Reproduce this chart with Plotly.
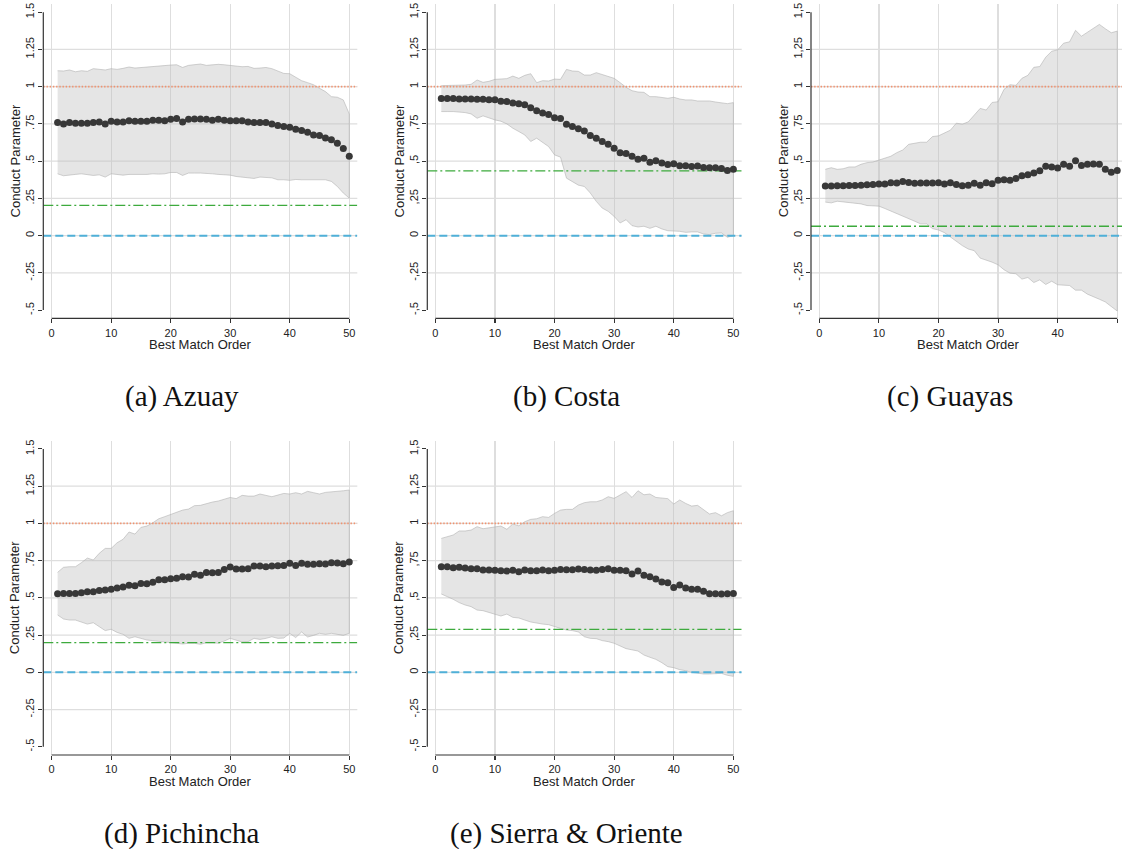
import plotly.graph_objects as go

# ---------------- data ----------------
order = list(range(1, 51))

azuay_est = [0.759, 0.750, 0.759, 0.754, 0.754, 0.754, 0.759, 0.763, 0.750, 0.768,
             0.763, 0.763, 0.772, 0.768, 0.768, 0.768, 0.775, 0.775, 0.772, 0.781,
             0.786, 0.763, 0.781, 0.783, 0.783, 0.781, 0.775, 0.781, 0.775, 0.772,
             0.772, 0.772, 0.763, 0.759, 0.759, 0.759, 0.750, 0.739, 0.732, 0.728,
             0.714, 0.705, 0.694, 0.676, 0.672, 0.656, 0.643, 0.621, 0.585, 0.533]
azuay_hi = [1.107, 1.105, 1.112, 1.100, 1.107, 1.103, 1.121, 1.118, 1.112, 1.121,
            1.116, 1.123, 1.132, 1.125, 1.129, 1.134, 1.138, 1.138, 1.143, 1.145,
            1.147, 1.129, 1.143, 1.150, 1.152, 1.143, 1.147, 1.150, 1.147, 1.143,
            1.136, 1.134, 1.136, 1.123, 1.125, 1.129, 1.121, 1.107, 1.089, 1.087,
            1.063, 1.040, 1.027, 1.013, 0.989, 0.967, 0.933, 0.929, 0.911, 0.817]
azuay_lo = [0.415, 0.402, 0.408, 0.411, 0.415, 0.408, 0.404, 0.408, 0.393, 0.415,
            0.411, 0.406, 0.411, 0.415, 0.411, 0.411, 0.415, 0.413, 0.415, 0.424,
            0.424, 0.404, 0.420, 0.420, 0.420, 0.420, 0.415, 0.411, 0.406, 0.406,
            0.397, 0.393, 0.388, 0.384, 0.393, 0.388, 0.388, 0.375, 0.375, 0.371,
            0.377, 0.375, 0.371, 0.373, 0.375, 0.375, 0.364, 0.330, 0.286, 0.252]

costa_est = [0.920, 0.920, 0.920, 0.917, 0.917, 0.917, 0.915, 0.915, 0.913, 0.913,
             0.902, 0.900, 0.891, 0.886, 0.879, 0.859, 0.839, 0.824, 0.813, 0.792,
             0.786, 0.748, 0.732, 0.717, 0.703, 0.672, 0.654, 0.632, 0.614, 0.587,
             0.556, 0.551, 0.533, 0.513, 0.520, 0.493, 0.502, 0.487, 0.478, 0.482,
             0.469, 0.469, 0.464, 0.467, 0.458, 0.455, 0.455, 0.451, 0.438, 0.446]
costa_hi = [1.007, 1.007, 1.007, 1.007, 1.011, 1.016, 1.045, 1.029, 1.036, 1.049,
            1.049, 1.054, 1.071, 1.056, 1.076, 1.087, 1.027, 1.040, 1.038, 1.051,
            1.049, 1.116, 1.105, 1.103, 1.078, 1.078, 1.094, 1.083, 1.071, 1.056,
            1.027, 0.996, 0.973, 0.964, 0.962, 0.933, 0.933, 0.926, 0.922, 0.929,
            0.917, 0.911, 0.911, 0.904, 0.906, 0.904, 0.897, 0.891, 0.886, 0.893]
costa_lo = [0.833, 0.833, 0.833, 0.830, 0.826, 0.817, 0.788, 0.804, 0.788, 0.777,
            0.768, 0.750, 0.721, 0.699, 0.676, 0.632, 0.654, 0.625, 0.598, 0.542,
            0.527, 0.386, 0.364, 0.339, 0.330, 0.286, 0.230, 0.185, 0.163, 0.129,
            0.085, 0.107, 0.067, 0.058, 0.063, 0.049, 0.063, 0.045, 0.033, 0.033,
            0.029, 0.022, 0.025, 0.025, 0.011, 0.007, 0.016, 0.018, -0.011, 0.000]

guayas_est = [0.333, 0.333, 0.335, 0.335, 0.337, 0.337, 0.339, 0.342, 0.344, 0.346,
              0.346, 0.355, 0.353, 0.364, 0.357, 0.351, 0.353, 0.353, 0.353, 0.355,
              0.346, 0.355, 0.344, 0.335, 0.339, 0.351, 0.339, 0.355, 0.348, 0.371,
              0.375, 0.371, 0.384, 0.402, 0.409, 0.420, 0.436, 0.465, 0.461, 0.454,
              0.479, 0.465, 0.503, 0.470, 0.479, 0.481, 0.479, 0.445, 0.425, 0.438]
guayas_hi = [0.445, 0.456, 0.445, 0.449, 0.461, 0.461, 0.479, 0.490, 0.494, 0.508,
             0.524, 0.533, 0.557, 0.575, 0.613, 0.620, 0.627, 0.627, 0.665, 0.670,
             0.688, 0.708, 0.755, 0.748, 0.764, 0.809, 0.854, 0.843, 0.894, 0.899,
             0.982, 1.013, 1.009, 1.056, 1.076, 1.130, 1.135, 1.198, 1.238, 1.247,
             1.292, 1.301, 1.378, 1.339, 1.366, 1.389, 1.418, 1.389, 1.362, 1.373]
guayas_lo = [0.225, 0.220, 0.231, 0.225, 0.218, 0.218, 0.213, 0.202, 0.198, 0.198,
             0.182, 0.169, 0.148, 0.130, 0.115, 0.097, 0.079, 0.079, 0.047, 0.038,
             0.020, -0.004, -0.038, -0.067, -0.090, -0.101, -0.151, -0.164, -0.178, -0.196,
             -0.229, -0.252, -0.256, -0.292, -0.281, -0.315, -0.297, -0.328, -0.306, -0.330,
             -0.333, -0.335, -0.366, -0.366, -0.393, -0.409, -0.427, -0.445, -0.476, -0.506]

pichincha_est = [0.528, 0.530, 0.530, 0.530, 0.535, 0.541, 0.541, 0.550, 0.553, 0.557,
                 0.566, 0.573, 0.584, 0.582, 0.597, 0.595, 0.604, 0.622, 0.622, 0.629,
                 0.631, 0.642, 0.640, 0.658, 0.651, 0.671, 0.669, 0.671, 0.691, 0.707,
                 0.694, 0.694, 0.696, 0.714, 0.714, 0.709, 0.714, 0.716, 0.718, 0.732,
                 0.718, 0.732, 0.725, 0.725, 0.729, 0.727, 0.736, 0.734, 0.729, 0.740]
pichincha_hi = [0.671, 0.705, 0.709, 0.709, 0.736, 0.767, 0.754, 0.799, 0.832, 0.832,
                0.870, 0.893, 0.942, 0.928, 0.973, 0.982, 1.004, 1.031, 1.045, 1.060,
                1.074, 1.089, 1.096, 1.119, 1.121, 1.134, 1.143, 1.150, 1.161, 1.174,
                1.166, 1.188, 1.183, 1.183, 1.197, 1.188, 1.179, 1.190, 1.201, 1.197,
                1.206, 1.197, 1.215, 1.206, 1.197, 1.208, 1.210, 1.213, 1.219, 1.224]
pichincha_lo = [0.385, 0.358, 0.351, 0.351, 0.340, 0.324, 0.333, 0.306, 0.280, 0.289,
                0.268, 0.255, 0.228, 0.239, 0.228, 0.217, 0.213, 0.208, 0.199, 0.199,
                0.195, 0.190, 0.195, 0.195, 0.188, 0.199, 0.199, 0.195, 0.210, 0.228,
                0.217, 0.204, 0.206, 0.228, 0.221, 0.228, 0.239, 0.228, 0.230, 0.262,
                0.233, 0.271, 0.237, 0.248, 0.262, 0.255, 0.262, 0.255, 0.248, 0.262]

sierra_est = [0.709, 0.709, 0.702, 0.705, 0.700, 0.696, 0.696, 0.687, 0.687, 0.685,
              0.682, 0.680, 0.685, 0.676, 0.687, 0.682, 0.682, 0.687, 0.682, 0.685,
              0.691, 0.689, 0.689, 0.694, 0.691, 0.687, 0.685, 0.691, 0.696, 0.685,
              0.685, 0.682, 0.660, 0.680, 0.651, 0.642, 0.626, 0.606, 0.602, 0.570,
              0.586, 0.566, 0.557, 0.557, 0.544, 0.528, 0.528, 0.526, 0.528, 0.530]
sierra_hi = [0.899, 0.911, 0.922, 0.949, 0.949, 0.955, 0.978, 0.964, 0.971, 0.978,
             0.982, 0.960, 0.996, 0.984, 1.011, 1.027, 1.031, 1.045, 1.040, 1.067,
             1.089, 1.094, 1.094, 1.123, 1.139, 1.145, 1.145, 1.157, 1.179, 1.168,
             1.190, 1.213, 1.174, 1.219, 1.192, 1.197, 1.174, 1.170, 1.166, 1.130,
             1.157, 1.134, 1.116, 1.121, 1.094, 1.063, 1.072, 1.051, 1.072, 1.085]
sierra_lo = [0.526, 0.508, 0.490, 0.468, 0.452, 0.441, 0.418, 0.414, 0.400, 0.391,
             0.378, 0.391, 0.369, 0.365, 0.351, 0.338, 0.329, 0.324, 0.320, 0.306,
             0.295, 0.284, 0.280, 0.271, 0.239, 0.228, 0.226, 0.213, 0.206, 0.195,
             0.177, 0.159, 0.150, 0.143, 0.116, 0.101, 0.087, 0.065, 0.038, 0.031,
             0.018, 0.011, 0.000, -0.007, -0.011, -0.011, -0.011, -0.007, -0.020, -0.027]

# reference levels: perfect collusion (1), competitive (0), comparison level per market
collusion_level = 1.0
competition_level = 0.0
comparison_levels = [0.203, 0.435, 0.063, 0.2, 0.289]

captions = ["(a) Azuay", "(b) Costa", "(c) Guayas", "(d) Pichincha", "(e) Sierra & Oriente"]
y_tick_vals = [-0.5, -0.25, 0, 0.25, 0.5, 0.75, 1, 1.25, 1.5]
y_ticks_dot = ["-.5", "-.25", "0", ".25", ".5", ".75", "1", "1.25", "1.5"]
y_ticks_comma = ["-,5", "-,25", "0", ",25", ",5", ",75", "1", "1,25", "1,5"]
x_tick_vals = [0, 10, 20, 30, 40, 50]

estimates = [azuay_est, costa_est, guayas_est, pichincha_est, sierra_est]
uppers = [azuay_hi, costa_hi, guayas_hi, pichincha_hi, sierra_hi]
lowers = [azuay_lo, costa_lo, guayas_lo, pichincha_lo, sierra_lo]
tick_styles = [y_ticks_dot, y_ticks_comma, y_ticks_comma, y_ticks_dot, y_ticks_comma]

# ---------------- layout geometry (pixels) ----------------
W, H = 1122, 849
cols_px = [(43.3, 357.3), (427.3, 741.7), (811.0, 1122.0)]
rows_px = [(4.0, 318.3), (440.7, 755.0)]
cells = [(0, 0), (0, 1), (0, 2), (1, 0), (1, 1)]
x_ranges = [[-1.4, 51.35], [-1.35, 51.4], [-1.4, 50.8], [-1.4, 51.35], [-1.35, 51.4]]
y_range = [-0.555, 1.555]

def px_x(p):
    return p / W

def px_y(p):
    return 1 - p / H

LABEL_FONT = "Liberation Sans, Arial, sans-serif"
TXT = "#222222"
GRID = "#DEDEDE"

fig = go.Figure()
shapes = []
annotations = []
layout_axes = {}

for i in range(5):
    r, c = cells[i]
    n = i + 1
    xa = "x" if n == 1 else f"x{n}"
    ya = "y" if n == 1 else f"y{n}"
    x0p, x1p = cols_px[c]
    y0p, y1p = rows_px[r]

    # confidence band
    fig.add_trace(go.Scatter(
        x=order + order[::-1], y=uppers[i] + lowers[i][::-1],
        fill="toself", fillcolor="rgba(190,190,190,0.40)",
        line=dict(color="rgba(175,175,175,0.7)", width=0.8),
        mode="lines", hoverinfo="skip", showlegend=False, xaxis=xa, yaxis=ya))

    xr = x_ranges[i]
    # reference lines
    fig.add_trace(go.Scatter(x=xr, y=[collusion_level] * 2, mode="lines",
                             line=dict(color="#F2926E", width=1.8, dash="1.4px,1.8px"),
                             showlegend=False, hoverinfo="skip", xaxis=xa, yaxis=ya))
    fig.add_trace(go.Scatter(x=xr, y=[comparison_levels[i]] * 2, mode="lines",
                             line=dict(color="#3DAA3D", width=1.3, dash="10px,3px,2px,3px"),
                             showlegend=False, hoverinfo="skip", xaxis=xa, yaxis=ya))
    fig.add_trace(go.Scatter(x=xr, y=[competition_level] * 2, mode="lines",
                             line=dict(color="#4FB0D8", width=2, dash="8px,4px"),
                             showlegend=False, hoverinfo="skip", xaxis=xa, yaxis=ya))

    # point estimates
    fig.add_trace(go.Scatter(x=order, y=estimates[i], mode="markers",
                             marker=dict(color="#383838", size=7, line=dict(width=0)),
                             showlegend=False, xaxis=xa, yaxis=ya))

    xkey = "xaxis" if n == 1 else f"xaxis{n}"
    ykey = "yaxis" if n == 1 else f"yaxis{n}"
    layout_axes[xkey] = dict(
        domain=[px_x(x0p), px_x(x1p)], range=xr, anchor=ya,
        tickmode="array", tickvals=x_tick_vals, ticktext=[str(v) for v in x_tick_vals],
        ticks="outside", ticklen=4, tickwidth=1.1, tickcolor="#333333",
        showgrid=True, gridcolor=GRID, gridwidth=1.2, zeroline=False, showline=False,
        tickfont=dict(family=LABEL_FONT, size=11, color=TXT), fixedrange=True)
    layout_axes[ykey] = dict(
        domain=[px_y(y1p), px_y(y0p)], range=y_range, anchor=xa,
        tickmode="array", tickvals=y_tick_vals, ticktext=tick_styles[i],
        ticks="outside", ticklen=4, tickwidth=1.1, tickcolor="#333333", tickangle=-90,
        showgrid=False, zeroline=False, showline=False,
        tickfont=dict(family=LABEL_FONT, size=11, color=TXT), fixedrange=True)

    # horizontal grid lines (interior ticks only)
    for v in y_tick_vals[1:-1]:
        shapes.append(dict(type="line", xref=f"{xa} domain", x0=0, x1=1, yref=ya, y0=v, y1=v,
                           line=dict(color=GRID, width=1.2), layer="below"))
    # axis lines spanning only the tick range
    shapes.append(dict(type="line", xref=f"{xa} domain", x0=0, x1=0, yref=ya,
                       y0=y_tick_vals[0], y1=y_tick_vals[-1],
                       line=dict(color="#333333", width=1.2), layer="above"))
    shapes.append(dict(type="line", yref=f"{ya} domain", y0=0, y1=0, xref=xa,
                       x0=x_tick_vals[0], x1=x_tick_vals[-1],
                       line=dict(color="#333333", width=1.2), layer="above"))

    # axis titles
    annotations.append(dict(text="Best Match Order", xref="paper", yref="paper",
                            x=px_x((x0p + x0p + 314.0) / 2), y=px_y(y1p + 26),
                            xanchor="center", yanchor="middle", showarrow=False,
                            font=dict(family=LABEL_FONT, size=13, color=TXT)))
    annotations.append(dict(text="Conduct Parameter", xref="paper", yref="paper",
                            x=px_x(x0p - 28), y=px_y((y0p + y1p) / 2), textangle=-90,
                            xanchor="center", yanchor="middle", showarrow=False,
                            font=dict(family=LABEL_FONT, size=13, color=TXT)))
    # caption
    annotations.append(dict(text=captions[i], xref="paper", yref="paper",
                            x=px_x((x0p + x0p + 314.0) / 2 - 18), y=px_y(y1p + 78),
                            xanchor="center", yanchor="middle", showarrow=False,
                            font=dict(family="Liberation Serif, Times New Roman, serif",
                                      size=29, color="#111111")))

fig.update_layout(
    width=W, height=H, autosize=False,
    margin=dict(l=0, r=0, t=0, b=0, pad=0),
    paper_bgcolor="white", plot_bgcolor="white",
    shapes=shapes, annotations=annotations, showlegend=False,
    **layout_axes)

fig.write_html("out.html", config={"displayModeBar": False, "staticPlot": True},
               post_script="document.body.style.margin='0';document.body.style.overflow='hidden';")
